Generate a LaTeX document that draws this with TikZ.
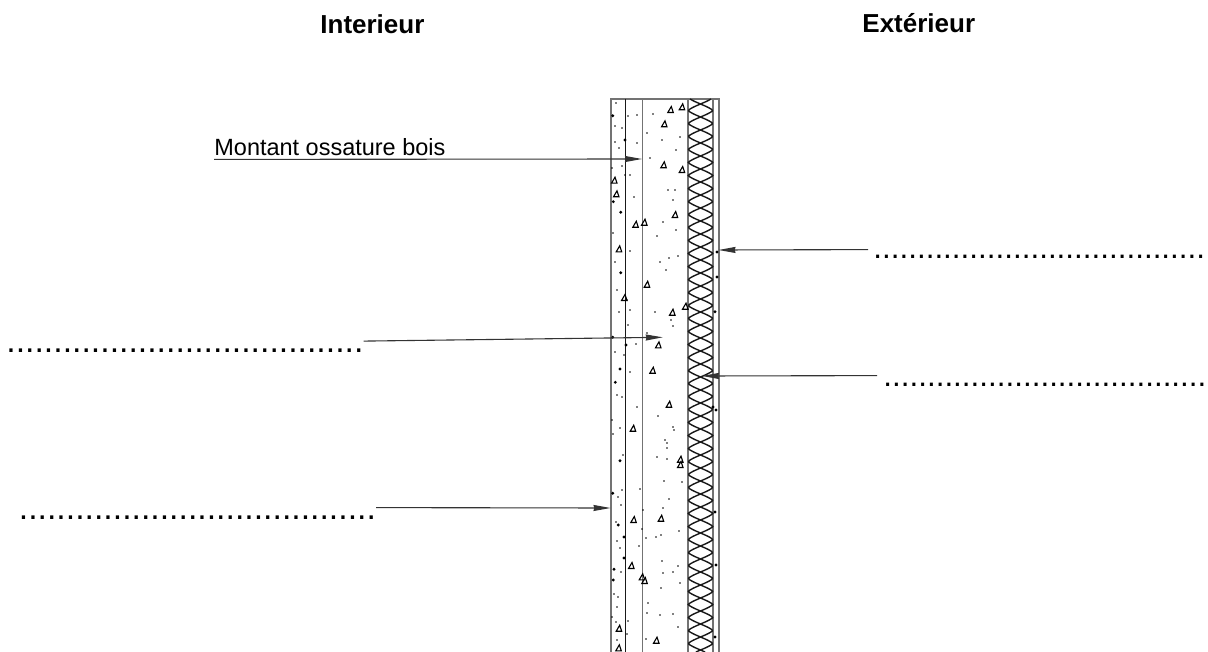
\documentclass[tikz,border=0pt]{standalone}
\usepackage{fontspec}
\setmainfont{Liberation Sans}
\usetikzlibrary{arrows.meta}
\tikzset{
  >={Stealth[length=8.5pt,width=3pt,inset=.4pt]},
  side/.style={font=\bfseries\fontsize{13}{15}\selectfont, inner sep=0pt, anchor=base west},
  dotsleft/.style={font=\fontsize{16.9}{18}\selectfont, inner sep=0pt, anchor=base west, text height=5.5pt},
  dotsright/.style={font=\fontsize{15.7}{18}\selectfont, inner sep=0pt, anchor=base west, text height=4pt},
  skin/.style={draw=black!55, line width=1pt},
  thin wall/.style={draw=black!90, line width=.6pt},
  lead/.style={draw=black!80, line width=.55pt, ->},
  speck/.style={draw=black, line width=.55pt},
  batt/.style={line width=.7pt, black!90, line join=round}
}
\begin{document}
\begin{tikzpicture}[x=.5pt,y=-.5pt]
  \useasboundingbox (0,0) rectangle (1208,652);
  % wall
  \draw[skin] (610.7,652) -- (610.7,98.7) -- (718.7,98.7) -- (718.7,652);
  \draw[skin] (688,98.7) -- (688,652);
  \draw[skin] (713,98.7) -- (713,652);
  \draw[skin, line width=.75pt] (642.7,98.7) -- (642.7,652);
  \draw[thin wall] (625.5,98.7) -- (625.5,652);
  % insulation
  \draw[batt] plot[domain=99:652,samples=420] ({700.5+12.5*(.4*sin(13.846*\x)+.6*asin(sin(13.846*\x))/90)},\x);
  \draw[batt] plot[domain=99:652,samples=420] ({700.5-12.5*(.4*sin(13.846*\x)+.6*asin(sin(13.846*\x))/90)},\x);
  % aggregate
  \foreach \a/\b in {670.3/110,681.7/107.3,664/124.3,663.3/165.3,681.7/170,614/180.7,616/194.3,
    674.7/215,635.3/224.7,644/222.7,618.7/249.3,646.7/284.7,624/298,685/306.7,672/312.7,
    658/345.3,652.3/370.7,668.7/404.7,632.7/428.7,680/459.7,680/465,633.3/520,660.7/518.7,
    631/566,641.7/577.3,644.3/581,618.7/628.7,656/640.7,618.3/648.3}
    \draw[speck] (\a-2.5,\b+2.5) -- ++(5.5,0) -- ++(-2,-6) -- cycle;
  \foreach \a/\b in {612.7/115.7,613.3/201.7,620.7/212.3,620.7/272.7,620/369,615.3/382.3,
    612.7/337.3,620/460.7,612.7/493.3,618.3/525,614/569.3,613.3/580,715/311.7,717/252,
    717/277,713/407,716/410,715/512,716/565,715/637,625/140,626/345,624/537,624/558}
    \fill (\a,\b) circle (1.6);
  \foreach \a/\b in {616/103,615/126,622/128,628/116,637/115,653/114,647/133,662/140,680/137,
    676/150,650/158,615/142,619/148,637/143,630/175,634/197,668/190,675/190,673/200,676/230,
    669/258,663/222,657/236,660/262,678/256,666/270,622/166,625/175,612/168,613/233,630/251,
    615/262,617/290,627/300,630/310,628/325,619/312,615/352,624/355,636/344,630/372,647/333,
    655/312,673/326,671/320,637/407,617/395,622/397,620/428,612/420,613/434,623/455,658/416,
    665/440,674/430,673/427,667/443,667/448,667/459,657/457,622/490,618/497,621/505,640/489,
    664/481,682/482,669/499,643/510,663/508,679/531,661/535,616/522,642/529,617/541,620/548,
    646/538,656/537,639/546,662/561,673/572,663/573,678/566,680/583,661/588,621/572,618/597,
    614/594,617/607,612/617,616/622,628/621,648/603,647/613,660/615,673/614,678/627,646/639,
    617/640,627/634}
    \fill (\a,\b) circle (.9);
  % labels
  \node[side] (interior) at (320,34) {Interieur};
  \node[side] (exterior) at (862,33) {Extérieur};
  \node[font=\fontsize{11.74}{14}\selectfont, inner sep=0pt, anchor=base west, text depth=1.5pt] (montant) at (214,156) {Montant ossature bois};
  \node[dotsleft] (fillleft) at (6,352.5) {......................................};
  \node[dotsleft] (skinleft) at (18.5,519) {......................................};
  \node[dotsright] (claddingright) at (873,258) {......................................};
  \node[dotsright, text height=5pt] (insulationright) at (883,386) {.....................................};
  % targets
  \coordinate (studtip) at (642,159);
  \coordinate (filltip) at (662.7,337.3);
  \coordinate (skintip) at (610.5,508);
  \coordinate (claddingtip) at (718.5,250);
  \coordinate (insulationtip) at (702,376);
  \draw[lead] (montant.south west) -- (studtip);
  \draw[lead] (fillleft.north east) -- (filltip);
  \draw[lead] (skinleft.north east) -- (skintip);
  \draw[lead] ([xshift=-2.5pt]claddingright.north west) -- (claddingtip);
  \draw[lead] ([xshift=-3pt]insulationright.north west) -- (insulationtip);
\end{tikzpicture}
\end{document}
